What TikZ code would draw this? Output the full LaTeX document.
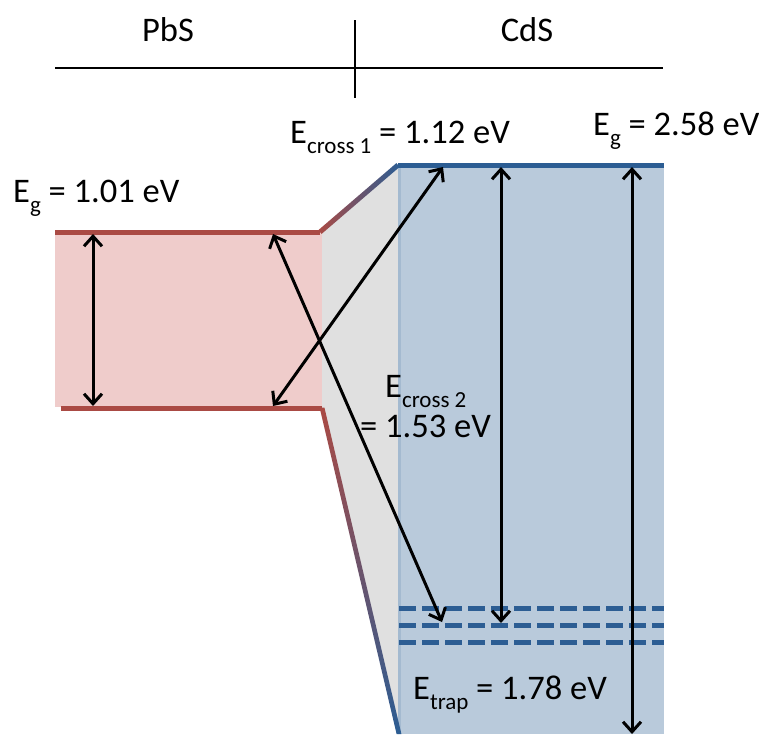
\documentclass[tikz,border=0pt]{standalone}
\usepackage{fontspec}
\setmainfont{Carlito}
\usetikzlibrary{arrows.meta}
\definecolor{pbsred}{RGB}{170,74,68}
\definecolor{pbsfill}{RGB}{239,204,203}
\definecolor{gapgray}{RGB}{224,224,224}
\definecolor{cdsfill}{RGB}{185,202,219}
\definecolor{cdsblue}{RGB}{44,93,147}
\newcommand\lowsub[1]{\raisebox{-0.3em}{\fontsize{23}{25}\selectfont #1}}
\tikzset{
  level/.style={line width=5pt},
  hdr/.style={line width=1.6pt, black},
  arr/.style={line width=3pt, black, {Straight Barb[length=10pt,width=18pt]}-{Straight Barb[length=10pt,width=18pt]}},
  lbl/.style={inner sep=0pt, anchor=base west, font=\fontsize{34.5}{40}\selectfont},
  trapline/.style={line width=5pt, cdsblue, dash pattern=on 17pt off 6pt}
}
\begin{document}
\begin{tikzpicture}[x=1pt,y=-1pt]
\useasboundingbox (0,0) rectangle (759,734);
% fills
\fill[gapgray] (320,232) -- (398,165) -- (398,734) -- (399,734) -- (322,408) -- cycle;
\fill[pbsfill] (55,232) rectangle (322,407);
\fill[cdsfill] (398,165) rectangle (664,734);
\fill[cdsblue!15!cdsfill] (398,165) rectangle (401,734);
% header
\draw[hdr] (55,68) -- (663,68);
\draw[hdr] (355,20) -- (355,98);
\node[font=\fontsize{34.5}{40}\selectfont] (pbs) at (168,30) {PbS};
\node[font=\fontsize{34.5}{40}\selectfont] (cds) at (527,30) {CdS};
% level lines
\draw[level, pbsred] (55,232) -- (320,232);
\draw[level, pbsred] (61,408) -- (322,408);
\draw[level, cdsblue] (398,165) -- (664,165);
\shade[left color=pbsred, right color=cdsblue] (318.4,230.1) -- (396.4,163.1) -- (399.6,166.9) -- (321.6,233.9) -- cycle;
\shade[top color=pbsred, bottom color=cdsblue] (319.6,407.5) -- (324.4,407.5) -- (401.4,734) -- (396.6,734) -- cycle;
% trap states
\draw[trapline] (399,608) -- (664,608);
\draw[trapline] (399,625) -- (664,625);
\draw[trapline] (399,642) -- (664,642);
% arrow end points
\coordinate (g1t) at (93,234);
\coordinate (g1b) at (93,406);
\coordinate (c1b) at (273,406);
\coordinate (c1t) at (443,167);
\coordinate (c2t) at (273,234);
\coordinate (c2b) at (442,622);
\coordinate (trt) at (501,167);
\coordinate (trb) at (501,623);
\coordinate (g2t) at (632,167);
\coordinate (g2b) at (632,734);
\draw[arr] (g1t) -- (g1b);
\draw[arr] (c1b) -- (c1t);
\draw[arr] (c2t) -- (c2b);
\draw[arr] (trt) -- (trb);
\draw[arr] (g2t) -- (g2b);
% labels
\node[lbl] (eg1) at (13,202) {E\lowsub{g} = 1.01 eV};
\node[lbl] (ec1) at (290,143) {E\lowsub{cross 1} = 1.12 eV};
\node[lbl] (eg2) at (593,135) {E\lowsub{g} = 2.58 eV};
\node[lbl] (ec2a) at (385,397) {E\lowsub{cross 2}};
\node[lbl] (ec2b) at (360,437) {= 1.53 eV};
\node[lbl] (etr) at (413,699) {E\lowsub{trap} = 1.78 eV};
\end{tikzpicture}
\end{document}
